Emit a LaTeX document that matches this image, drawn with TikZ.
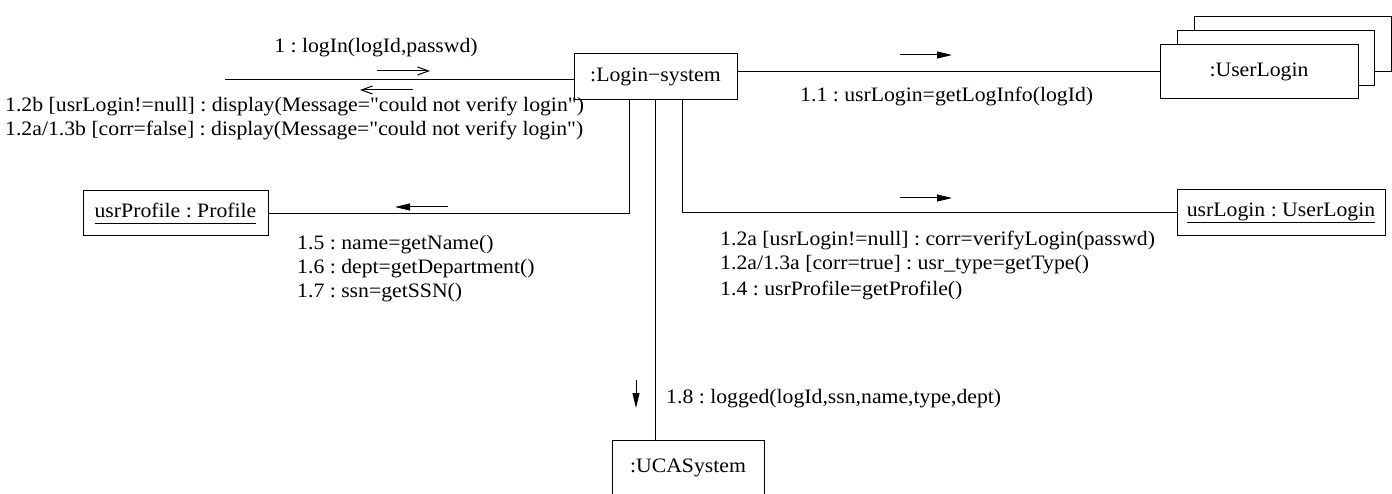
\documentclass[tikz,border=0pt]{standalone}
\usepackage{fontspec}
\setmainfont{Liberation Serif}[FakeStretch=1.06,Ligatures=TeXOff]
\usetikzlibrary{arrows.meta}
\frenchspacing
\begin{document}
\begin{tikzpicture}[x=1pt,y=-1pt,
  every node/.style={font=\fontsize{20.5}{24}\selectfont},
  obj/.style={draw,line width=1pt,inner sep=0pt,fill=white},
  msg/.style={inner sep=0pt,anchor=base west},
  link/.style={line width=1pt},
  fwd/.style={line width=1pt,-{Triangle[length=15pt,width=7pt]}},
  call/.style={line width=1pt,-{Straight Barb[length=11pt,width=8pt]}}]
\useasboundingbox (0,0) rectangle (1392,494);
\clip (0,0) rectangle (1392,494);

% objects
\node[obj,minimum width=163pt,minimum height=46pt] (login) at (655.5,77) {:Login−system};
\draw[line width=1pt,fill=white] (1194,45) |- (1391,17) |- (1374,72);
\draw[line width=1pt,fill=white] (1177,45) |- (1374,31) |- (1358,86);
\node[obj,minimum width=198pt,minimum height=54pt] (ul) at (1259,72) {:UserLogin};
\node[obj,minimum width=185pt,minimum height=45pt] (prof) at (175.5,213.5) {\underline{usrProfile : Profile\vphantom{g}}};
\node[obj,minimum width=208pt,minimum height=46pt] (usrl) at (1281,213) {\underline{usrLogin : UserLogin}};
\node[obj,minimum width=152pt,minimum height=56pt] (uca) at (688,468) {:UCASystem};

% links
\coordinate (actor) at (225,80);
\coordinate (pA) at (629,213.5);
\coordinate (pB) at (682,213);
\coordinate (pC) at (655,300);
\draw[link] (actor) -- (actor -| login.west);
\draw[link] (login.east |- ul.west) -- (ul.west);
\draw[link] (pA |- login.south) -- (pA) -- (prof.east);
\draw[link] (pB |- login.south) -- (pB) -- (usrl.west);
\draw[link] (pC |- login.south) -- (pC |- uca.north);

% message arrows
\draw[call] (377,71) -- (430,71);
\draw[call] (413,90) -- (360,90);
\draw[fwd] (900,55) -- (952,55);
\draw[fwd] (448,207) -- (395,207);
\draw[fwd] (900,198) -- (952,198);
\draw[fwd] (636,380) -- (636,408);

% message labels
\node[msg,anchor=base] (m1) at (376,53) {1 : logIn(logId,passwd)};
\node[msg] (m12b) at (5,112) {1.2b [usrLogin!=null] : display(Message="could not verify login")};
\node[msg] (m13b) at (5,136) {1.2a/1.3b [corr=false] : display(Message="could not verify login")};
\node[msg] (m11) at (800,102) {1.1 : usrLogin=getLogInfo(logId)};
\node[msg] (m15) at (297,250) {1.5 : name=getName()};
\node[msg] (m16) at (297,274) {1.6 : dept=getDepartment()};
\node[msg] (m17) at (297,298) {1.7 : ssn=getSSN()};
\node[msg] (m12a) at (720,246) {1.2a [usrLogin!=null] : corr=verifyLogin(passwd)};
\node[msg] (m13a) at (720,270) {1.2a/1.3a [corr=true] : usr\_type=getType()};
\node[msg] (m14) at (720,295) {1.4 : usrProfile=getProfile()};
\node[msg] (m18) at (666,403) {1.8 : logged(logId,ssn,name,type,dept)};
\end{tikzpicture}
\end{document}
